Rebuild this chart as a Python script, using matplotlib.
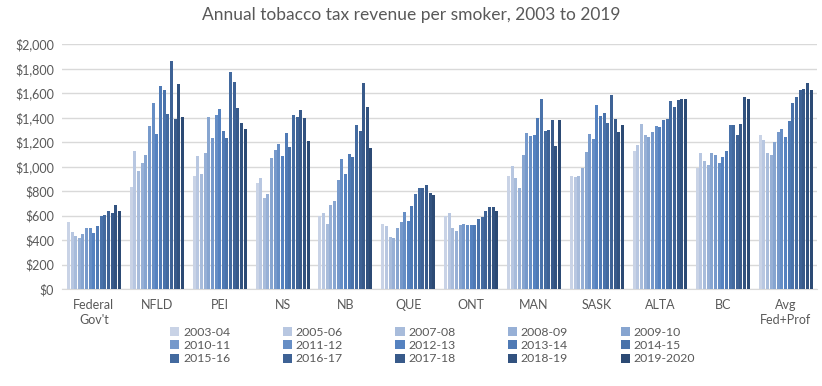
import numpy as np
import matplotlib
matplotlib.use('Agg')
import matplotlib.pyplot as plt
from matplotlib.colors import to_rgb

# Categorias (jurisdicciones) y años
regiones = ["Federal\nGov't", 'NFLD', 'PEI', 'NS', 'NB', 'QUE', 'ONT',
            'MAN', 'SASK', 'ALTA', 'BC', 'Avg\nFed+Prof']
anios = ['2003-04', '2005-06', '2007-08', '2008-09', '2009-10',
         '2010-11', '2011-12', '2012-13', '2013-14', '2014-15',
         '2015-16', '2016-17', '2017-18', '2018-19', '2019-2020']

# Ingreso por fumador (una lista por region, en orden de anios)
federal = [549, 468, 435, 419, 452, 500, 500, 460, 517, 598, 607, 639, 623, 688, 639]
nfld = [837, 1124, 960, 1026, 1091, 1329, 1517, 1263, 1656, 1623, 1427, 1860, 1386, 1672, 1402]
pei = [919, 1083, 936, 1108, 1402, 1230, 1419, 1468, 1288, 1230, 1770, 1689, 1476, 1353, 1304]
ns = [862, 903, 747, 780, 1067, 1132, 1181, 1083, 1271, 1157, 1419, 1402, 1459, 1394, 1206]
nb = [600, 625, 535, 690, 723, 887, 1058, 936, 1099, 1075, 1337, 1288, 1680, 1484, 1149]
que = [535, 518, 428, 420, 502, 551, 633, 559, 682, 780, 821, 829, 846, 788, 772]
ont = [595, 625, 502, 477, 526, 535, 526, 526, 526, 576, 592, 641, 666, 666, 641]
man = [919, 1001, 903, 821, 1091, 1271, 1247, 1255, 1394, 1550, 1288, 1296, 1378, 1165, 1378]
sask = [927, 911, 927, 985, 1116, 1263, 1222, 1500, 1410, 1435, 1353, 1582, 1386, 1279, 1337]
alta = [1124, 1173, 1345, 1255, 1239, 1279, 1329, 1320, 1378, 1386, 1533, 1484, 1541, 1550, 1550]
bc = [985, 1108, 1042, 1009, 1108, 1091, 1026, 1075, 1124, 1337, 1337, 1255, 1345, 1566, 1550]
promedio = [1255, 1214, 1108, 1091, 1198, 1279, 1304, 1239, 1369, 1517, 1566, 1623, 1632, 1680, 1623]

valores = np.array([federal, nfld, pei, ns, nb, que, ont, man, sask, alta, bc, promedio])

# Degradado de azules, de claro a oscuro
def degradado(n):
    anclas = [to_rgb('#c9d3e6'), to_rgb('#5582c0'), to_rgb('#2c4a74')]
    cols = []
    for i in range(n):
        t = i / (n - 1) * 2
        k = min(int(t), 1)
        f = t - k
        a, b = np.array(anclas[k]), np.array(anclas[k + 1])
        cols.append(tuple(a + (b - a) * f))
    return cols

colores = degradado(len(anios))

plt.rcParams['font.family'] = ['Lato', 'DejaVu Sans']
gris = '#595959'

fig = plt.figure(figsize=(8.22, 3.86), dpi=100)
ax = fig.add_axes([0.076, 0.251, 0.918, 0.635])

x = np.arange(len(regiones))
grupo = 0.87
paso = grupo / len(anios)
barras = []
for i, anio in enumerate(anios):
    pos = x - grupo / 2 + paso * (i + 0.5)
    b = ax.bar(pos, valores[:, i], width=paso * 0.82, color=colores[i], label=anio, zorder=3)
    barras.append(b)

ax.set_ylim(0, 2000)
ax.set_xlim(-0.5, len(regiones) - 0.5)
ax.set_yticks(range(0, 2001, 200))
ax.set_yticklabels(['${:,}'.format(v) for v in range(0, 2001, 200)])
ax.set_xticks(x)
ax.set_xticklabels(regiones, linespacing=1.3)
ax.tick_params(axis='both', length=0, labelsize=9, labelcolor=gris, pad=6)
ax.tick_params(axis='x', pad=7)
ax.yaxis.grid(True, color='#d9d9d9', linewidth=1, zorder=0)
for lado in ['top', 'right', 'left']:
    ax.spines[lado].set_visible(False)
ax.spines['bottom'].set_color('#d9d9d9')

fig.suptitle('Annual tobacco tax revenue per smoker, 2003 to 2019',
             y=0.982, fontsize=12.5, color=gris)

# Leyenda en orden por filas (5 columnas x 3 filas)
orden = [r * 5 + c for c in range(5) for r in range(3)]
ley = fig.legend([barras[k] for k in orden], [anios[k] for k in orden],
                 ncol=5, loc='upper left', bbox_to_anchor=(0.207, 0.154),
                 frameon=False, fontsize=8.8, handlelength=0.75, handleheight=0.75,
                 handletextpad=0.3, columnspacing=4.3, labelspacing=0.2,
                 borderaxespad=0, borderpad=0)
for t in ley.get_texts():
    t.set_color(gris)

fig.savefig('out.png', dpi=100)
